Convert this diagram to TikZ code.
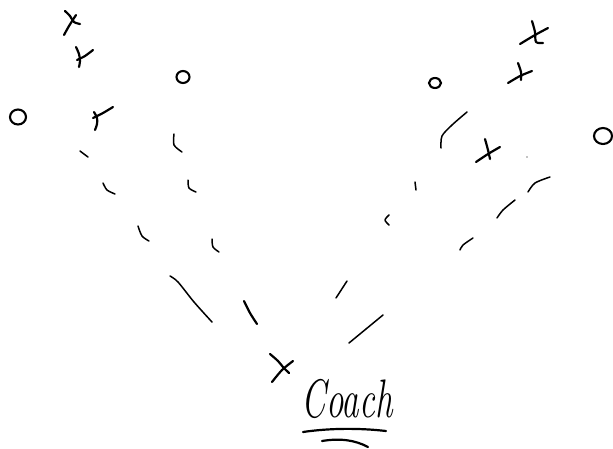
\documentclass[tikz,border=0pt]{standalone}
\begin{document}
\begin{tikzpicture}[x=1pt,y=-1pt,
  pen/.style={line width=2.2pt,line cap=round,line join=round},
  thin pen/.style={line width=1.5pt,line cap=round,line join=round},
  dot/.style={line width=2.1pt}]
\useasboundingbox (0,0) rectangle (613,448);
% ---- left group ----
% top X
\draw[pen] plot[smooth] coordinates {(65,11) (70,16) (74,22) (80,24)};
\draw[pen] plot[smooth] coordinates {(64,35) (69,26) (76,15)};
% second x
\draw[pen] plot[smooth] coordinates {(76,47) (79,54) (80,61) (79,67)};
\draw[pen] plot[smooth] coordinates {(77,60) (85,56) (93,50)};
% third x
\draw[pen] plot[smooth] coordinates {(94,112) (97,118) (97,124) (95,130)};
\draw[pen] plot[smooth] coordinates {(93,118) (103,113) (113,107)};
% circles
\draw[dot] (18,117) ellipse (8pt and 7.5pt);
\draw[dot] (183,77) ellipse (6.5pt and 6pt);
% left dashed lanes
\draw[thin pen] (80,151) -- (88,157);
\draw[thin pen] plot[smooth] coordinates {(103,183) (107,190) (115,194)};
\draw[thin pen] plot[smooth] coordinates {(138,226) (142,236) (149,241)};
\draw[thin pen] plot[smooth] coordinates {(170,276) (178,282) (194,302) (212,322)};
\draw[thin pen] plot[smooth] coordinates {(174,134) (174,145) (182,152)};
\draw[thin pen] plot[smooth] coordinates {(188,180) (189,188) (196,192)};
\draw[thin pen] plot[smooth] coordinates {(212,239) (213,247) (219,252)};
\draw[pen] plot[smooth] coordinates {(244,301) (250,313) (257,324)};
% ---- right group ----
% top X
\draw[pen] plot[smooth] coordinates {(532,21) (535,32) (536,42) (543,43)};
\draw[pen] plot[smooth] coordinates {(520,44) (535,35) (548,28)};
% second x
\draw[pen] plot[smooth] coordinates {(518,63) (521,72) (521,80)};
\draw[pen] plot[smooth] coordinates {(508,83) (520,76) (532,71)};
% third x
\draw[pen] plot[smooth] coordinates {(485,139) (488,150) (490,159)};
\draw[pen] plot[smooth] coordinates {(476,162) (488,154) (500,147)};
% circles
\draw[dot] (435,83) ellipse (6pt and 5pt);
\draw[dot] (603,136) ellipse (9pt and 8pt);
\fill (527,157) circle (0.7pt);
% right dashed lanes
\draw[thin pen] plot[smooth] coordinates {(467,112) (452,125) (442,136) (441,148)};
\draw[thin pen] (415,182) -- (416,190);
\draw[thin pen] plot[smooth] coordinates {(389,215) (385,220) (389,225)};
\draw[thin pen] plot[smooth] coordinates {(550,177) (535,183) (528,192)};
\draw[thin pen] plot[smooth] coordinates {(515,200) (503,210) (497,218)};
\draw[thin pen] plot[smooth] coordinates {(473,238) (463,245) (460,250)};
\draw[thin pen] (347,281) -- (336,298);
\draw[thin pen] (383,315) -- (349,343);
% ---- coach ----
\draw[pen] plot[smooth] coordinates {(270,354) (278,361) (283,367) (289,373)};
\draw[pen] plot[smooth] coordinates {(293,361) (282,370) (272,382)};
\node[font=\itshape\fontsize{35}{35}\selectfont,yscale=1.55,anchor=base,inner sep=0pt] (coach) at (347,417) {Coach};
\draw[pen] (303,432) .. controls (330,428) and (360,428) .. (386,431);
\draw[pen] (322,441) .. controls (340,438) and (355,440) .. (368,447);
\end{tikzpicture}
\end{document}
